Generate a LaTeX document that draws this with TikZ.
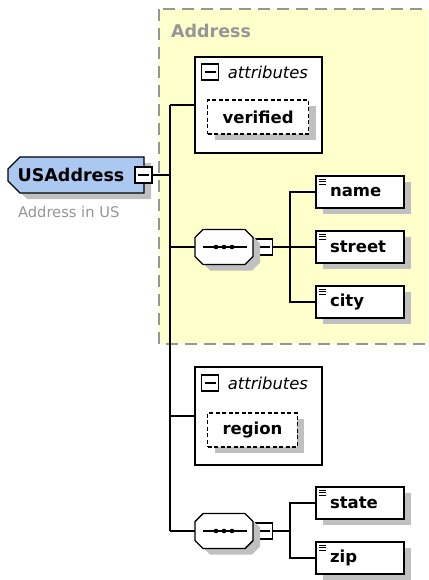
\documentclass[tikz,border=0pt]{standalone}
\usepackage{fontspec}
\setmainfont{DejaVu Sans}
\usepackage{tikz}
\usetikzlibrary{positioning,shapes.misc,shadows}

\definecolor{usblue}{RGB}{170,200,240}
\definecolor{grpyellow}{RGB}{255,255,204}
\definecolor{shadowgray}{RGB}{192,192,192}
\definecolor{grpgray}{RGB}{150,150,150}

\begin{document}
\begin{tikzpicture}[x=1pt, y=-1pt, line width=1.4pt,
  shade6/.style={drop shadow={shadow xshift=7pt, shadow yshift=-6pt, fill=shadowgray, opacity=1}},
  boldtxt/.style={font=\fontsize{16.5}{18}\selectfont\bfseries},
  elem/.style={draw, fill=white, shade6, boldtxt, minimum height=32pt, text width=60pt, inner xsep=14pt, align=left,
    path picture={\foreach \k in {3,5.7,8.4} \draw[line width=0.9pt] ([xshift=3pt,yshift=-\k pt]path picture bounding box.north west) -- ++(7,0);}},
  attrbox/.style={draw, fill=white, minimum width=127pt, inner sep=0pt},
  attrname/.style={draw, dash pattern=on 4pt off 2.5pt, line width=1.2pt, fill=white, shade6, boldtxt, inner xsep=15pt, minimum height=34pt},
  minusbox/.style={draw, fill=white, inner sep=0pt, minimum width=17pt, minimum height=16pt,
    path picture={\draw ([xshift=3pt]path picture bounding box.west) -- ([xshift=-3pt]path picture bounding box.east);}},
  seqbox/.style={inner sep=0pt, outer sep=0pt, minimum width=58pt, minimum height=35pt}]
\clip (0,0) rectangle (428,580);
\fill[white] (0,0) rectangle (428,580);

\draw[grpgray, fill=grpyellow, dash pattern=on 12pt off 7pt] (159,9) rectangle (440,344);
\node[anchor=west, grpgray, font=\fontsize{17.5}{20}\selectfont\bfseries] (grplabel) at (167,31) {Address};

\node[chamfered rectangle, chamfered rectangle corners={north west,south west}, chamfered rectangle xsep=6pt, chamfered rectangle ysep=6pt,
  draw, fill=usblue, shade6, inner xsep=0pt, minimum width=136pt, minimum height=36pt,
  font=\fontsize{17.5}{20}\selectfont\bfseries] (usaddr) at (76,175) {USAddress\hspace*{10pt}};
\node[minusbox] (usminus) at (143.5,175) {};
\node[anchor=west, grpgray, font=\fontsize{14.7}{17}\selectfont] (usdoc) at (14,212) {Address in US};

\node[attrbox, minimum height=96pt] (attr1) at (258.5,105) {};
\node[minusbox] (attr1m) at (210,72) {};
\node[right=8pt of attr1m, inner sep=0pt, font=\fontsize{16.4}{18}\selectfont\itshape] (attr1t) {attributes};
\node[attrname, anchor=west] (verified) at (207,117) {verified};

\node[seqbox] (seq1) at (224,247) {};
\node[minusbox, right=2pt of seq1] (seq1m) {};
\foreach \n/\y in {name/192, street/247, city/302}
  \node[elem] (\n) at (360,\y) {\n};

\node[attrbox, minimum height=98pt] (attr2) at (258.5,416) {};
\node[minusbox] (attr2m) at (210,383) {};
\node[right=8pt of attr2m, inner sep=0pt, font=\fontsize{16.4}{18}\selectfont\itshape] (attr2t) {attributes};
\node[attrname, anchor=west] (region) at (207,430) {region};

\node[seqbox] (seq2) at (224,531) {};
\node[minusbox, right=2pt of seq2] (seq2m) {};
\foreach \n/\y in {state/503, zip/558}
  \node[elem] (\n) at (360,\y) {\n};

\foreach \s in {seq1,seq2} {
  \draw[fill=white, shade6] ([xshift=8pt]\s.north west) -- ([xshift=-8pt]\s.north east) -- ([yshift=-8pt]\s.north east)
    -- ([yshift=8pt]\s.south east) -- ([xshift=-8pt]\s.south east) -- ([xshift=8pt]\s.south west)
    -- ([yshift=8pt]\s.south west) -- ([yshift=-8pt]\s.north west) -- cycle;
  \draw ([xshift=8pt]\s.west) -- ([xshift=-6pt]\s.east);
  \foreach \d in {-8,0,8} \fill ([xshift=\d pt]\s.center) circle (2.3pt);
}

\coordinate (trunk) at (170,175);
\coordinate (br1) at (290,247);
\coordinate (br2) at (290,531);
\draw (usminus.east) -- (trunk);
\draw (trunk |- attr1.west) -- (trunk |- seq2.west);
\foreach \n in {attr1,seq1,attr2,seq2}
  \draw (trunk |- \n.west) -- (\n.west);
\draw (seq1m.east) -- (br1);
\foreach \n in {name,street,city}
  \draw (\n.west) -| (br1);
\draw (seq2m.east) -- (br2);
\foreach \n in {state,zip}
  \draw (\n.west) -| (br2);
\end{tikzpicture}
\end{document}
